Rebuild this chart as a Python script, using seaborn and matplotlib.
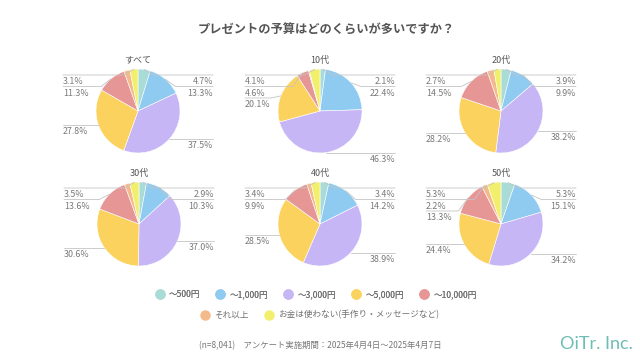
import numpy as np
import matplotlib
matplotlib.use('Agg')
import matplotlib.pyplot as plt
from matplotlib.lines import Line2D
import seaborn as sns

sns.set_theme(style='white')
plt.rcParams['font.family'] = ['Noto Sans CJK JP', 'DejaVu Sans']

#%% data

groups = ['すべて', '10代', '20代', '30代', '40代', '50代']
categories = ['～500円', '～1,000円', '～3,000円', '～5,000円', '～10,000円',
              'それ以上', 'お金は使わない(手作り・メッセージなど)']

vals_all = [4.7, 13.3, 37.5, 27.8, 11.3, 2.3, 3.1]
vals_10s = [2.1, 22.4, 46.3, 20.1, 4.6, 0.4, 4.1]
vals_20s = [3.9, 9.9, 38.2, 28.2, 14.5, 2.6, 2.7]
vals_30s = [2.9, 10.3, 37.0, 30.6, 13.6, 2.1, 3.5]
vals_40s = [3.4, 14.2, 38.9, 28.5, 9.9, 1.7, 3.4]
vals_50s = [5.3, 15.1, 34.2, 24.4, 13.3, 2.2, 5.3]
all_vals = [vals_all, vals_10s, vals_20s, vals_30s, vals_40s, vals_50s]

# slices whose value label is not printed in the original
no_label = {'すべて': [5], '10代': [5], '20代': [5], '30代': [5], '40代': [5], '50代': []}

colors = sns.color_palette(['#a9dcd6', '#8fcaf0', '#c7b6f6', '#fbd25e',
                            '#e69695', '#f4ba8c', '#f2ef6c'])

W, H = 640, 361
R = 42          # pie radius in px
GAP = 11.5      # min vertical gap between labels
CAP = 36        # labels stay inside +-CAP
LX = 75         # label column distance from center
centers = [(138, 111), (320, 111), (501, 111),
           (139, 224), (320, 224), (501, 224)]


def draw_pie(name, values, cx, cy):
    ax = fig.add_axes([(cx - 100) / W, 1 - (cy + 60) / H, 200 / W, 120 / H])
    ax.pie(values, colors=colors, startangle=90, counterclock=False, radius=R,
           wedgeprops=dict(edgecolor='white', linewidth=0.4))
    ax.set_xlim(-100, 100)
    ax.set_ylim(-60, 60)
    ax.set_aspect('equal')
    ax.axis('off')
    ax.patch.set_visible(False)
    ax.text(0, 51, name, ha='center', va='center', fontsize=6.5, color='#555555')

    # leader line labels
    cum = np.cumsum([0] + list(values))
    total = cum[-1]
    sides = {1: [], -1: []}
    for i, v in enumerate(values):
        if i in no_label[name]:
            continue
        th = np.deg2rad((cum[i] + v / 2) / total * 360)
        ex, ey = R * np.sin(th), R * np.cos(th)
        side = 1 if np.sin(th) >= 0 else -1
        sides[side].append((ey, ex, v))
    for side, items in sides.items():
        items.sort(key=lambda t: -t[0])
        prev = None
        for ey, ex, v in items:
            y = min(ey, CAP)
            if prev is not None:
                y = min(y, prev - GAP)
            prev = y
            kx = side * (abs(ex) + 10)
            ax.plot([ex, kx, side * LX], [ey, y, y], color='#c4c4c4', lw=0.6)
            ax.text(side * LX, y - 2, '{:.1f}%'.format(v), fontsize=6.4,
                    color='#7a7a7a', ha='right' if side > 0 else 'left', va='top')


fig = plt.figure(figsize=(W / 100, H / 100), dpi=100)
fig.patch.set_facecolor('white')

fig.text(326 / W, 1 - 30 / H, 'プレゼントの予算はどのくらいが多いですか？',
         ha='center', va='center', fontsize=8.8, fontweight='bold', color='#555555')

for name, values, (cx, cy) in zip(groups, all_vals, centers):
    draw_pie(name, values, cx, cy)

# legend, two centered rows
handles = [Line2D([], [], marker='o', ls='', markersize=6.5, markerfacecolor=c,
                  markeredgecolor=c) for c in colors]
leg1 = fig.legend(handles[:5], categories[:5], loc='center', ncol=5,
                  bbox_to_anchor=(314 / W, 1 - 295 / H), frameon=False,
                  fontsize=6.2, handletextpad=0.1, columnspacing=1.3,
                  labelcolor='#707070')
fig.legend(handles[5:], categories[5:], loc='center', ncol=2,
           bbox_to_anchor=(318 / W, 1 - 315 / H), frameon=False,
           fontsize=6.2, handletextpad=0.1, columnspacing=1.3,
           labelcolor='#707070')
fig.add_artist(leg1)

fig.text(320 / W, 1 - 346 / H,
         '(n=8,041)　アンケート実施期間：2025年4月4日～2025年4月7日',
         ha='center', va='center', fontsize=6, color='#777777')
fig.text(596 / W, 1 - 344 / H, 'OiTr. Inc.', ha='center', va='center',
         fontsize=13, color='#6dbdb5', family='Lato', fontweight='normal')

fig.savefig('out.png', dpi=100, facecolor='white')
